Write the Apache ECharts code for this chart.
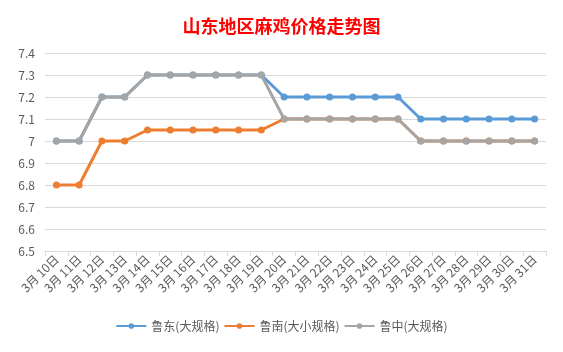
<!DOCTYPE html>
<html>
<head>
<meta charset="utf-8">
<script src="https://cdn.jsdelivr.net/npm/echarts@6/dist/echarts.min.js"></script>
<style>
  html, body { margin: 0; padding: 0; background: #fff; }
  #chart { width: 563px; height: 352px; }
</style>
</head>
<body>
<div id="chart"></div>
<script>
// 日期
const dates = ['3月 10日', '3月 11日', '3月 12日', '3月 13日', '3月 14日', '3月 15日', '3月 16日', '3月 17日',
  '3月 18日', '3月 19日', '3月 20日', '3月 21日', '3月 22日', '3月 23日', '3月 24日', '3月 25日',
  '3月 26日', '3月 27日', '3月 28日', '3月 29日', '3月 30日', '3月 31日']

const ludong = [7.0, 7.0, 7.2, 7.2, 7.3, 7.3, 7.3, 7.3, 7.3, 7.3, 7.2, 7.2, 7.2, 7.2, 7.2, 7.2, 7.1, 7.1, 7.1, 7.1, 7.1, 7.1]
const lunan = [6.8, 6.8, 7.0, 7.0, 7.05, 7.05, 7.05, 7.05, 7.05, 7.05, 7.1, 7.1, 7.1, 7.1, 7.1, 7.1, 7.0, 7.0, 7.0, 7.0, 7.0, 7.0]
const luzhong = [7.0, 7.0, 7.2, 7.2, 7.3, 7.3, 7.3, 7.3, 7.3, 7.3, 7.1, 7.1, 7.1, 7.1, 7.1, 7.1, 7.0, 7.0, 7.0, 7.0, 7.0, 7.0]

const seriesNames = ['鲁东(大规格)', '鲁南(大小规格)', '鲁中(大规格)']
const colors = ['#5B9BD5', '#ED7D31', '#A5A5A5']

const chart = echarts.init(document.getElementById('chart'))

function lineSeries(name, data, color) {
  return {
    name: name,
    type: 'line',
    data: data,
    symbol: 'circle',
    symbolSize: 7,
    itemStyle: { color: color },
    lineStyle: { color: color, width: 3 }
  }
}

chart.setOption({
  animation: false,
  textStyle: { fontFamily: 'Noto Sans CJK SC, sans-serif' },
  title: {
    text: '山东地区麻鸡价格走势图',
    left: 'center',
    top: 12,
    textStyle: { color: '#FF0000', fontSize: 18, fontWeight: 'bold' }
  },
  legend: {
    data: seriesNames,
    bottom: 15,
    left: 'center',
    itemWidth: 30,
    itemHeight: 7,
    itemGap: 4,
    textStyle: { color: '#595959', fontSize: 12 }
  },
  grid: {
    left: 45,
    right: 17,
    top: 53,
    bottom: 101
  },
  xAxis: {
    type: 'category',
    boundaryGap: true,
    data: dates,
    axisLine: { lineStyle: { color: '#D9D9D9' } },
    axisTick: { show: true, lineStyle: { color: '#D9D9D9' } },
    axisLabel: { color: '#595959', fontSize: 12, rotate: 45, interval: 0, margin: 6 }
  },
  yAxis: {
    type: 'value',
    min: 6.5,
    max: 7.4,
    interval: 0.1,
    axisLine: { show: false },
    axisTick: { show: false },
    axisLabel: { color: '#595959', fontSize: 12, margin: 10 },
    splitLine: { lineStyle: { color: '#D9D9D9' } }
  },
  series: [
    lineSeries(seriesNames[0], ludong, colors[0]),
    lineSeries(seriesNames[1], lunan, colors[1]),
    lineSeries(seriesNames[2], luzhong, colors[2])
  ]
})
</script>
</body>
</html>
